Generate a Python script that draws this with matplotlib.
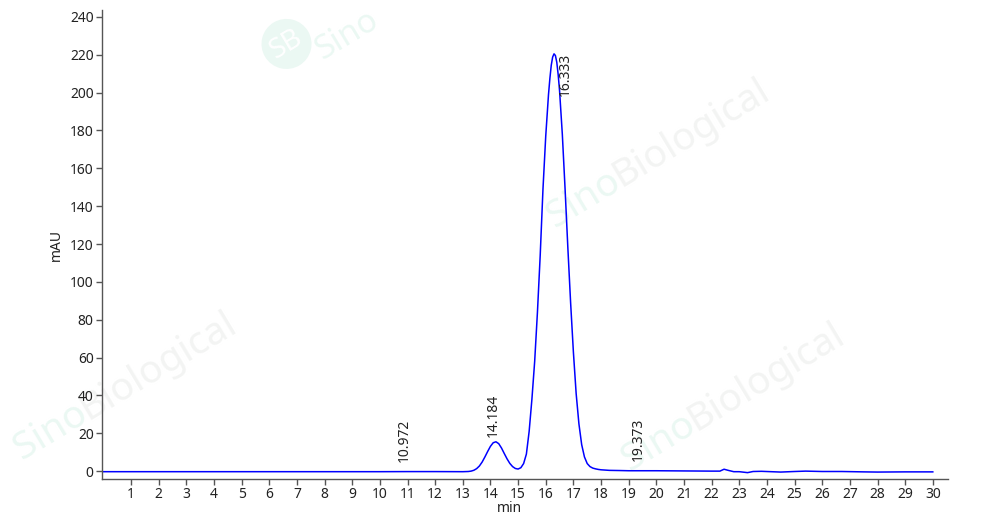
import numpy as np
import matplotlib
matplotlib.use('Agg')
from matplotlib import pyplot as plt

plt.rcParams['font.family'] = ['Noto Sans', 'DejaVu Sans']

# chromatogram trace (min, mAU)
timeMin = [0.0, 2.0, 4.0, 6.0, 8.0, 10.0, 11.0, 12.0, 13.0, 13.2, 13.3,
           13.4, 13.5, 13.6, 13.7, 13.8, 13.9, 14.0, 14.1, 14.2, 14.3,
           14.4, 14.5, 14.6, 14.7, 14.8, 14.9, 15.0, 15.1, 15.2, 15.3,
           15.4, 15.5, 15.6, 15.7, 15.8, 15.9, 16.0, 16.1, 16.15, 16.2,
           16.25, 16.3, 16.35, 16.4, 16.45, 16.5, 16.6, 16.7, 16.8, 16.9,
           17.0, 17.1, 17.2, 17.3, 17.4, 17.5, 17.6, 17.7, 17.8, 17.9,
           18.0, 18.3, 18.7, 19.0, 20.0, 21.0, 22.0, 22.3, 22.45, 22.6,
           22.8, 23.0, 23.3, 23.5, 23.8, 24.5, 25.0, 25.4, 26.0, 26.7,
           27.5, 28.0, 29.0, 30.0]
signal = [-0.3, -0.3, -0.3, -0.3, -0.3, -0.3, -0.25, -0.25, -0.3, -0.2, 0.0,
          0.45, 1.3, 2.7, 4.8, 7.5, 10.4, 13.1, 15.0, 15.5, 14.5,
          12.2, 9.3, 6.5, 4.1, 2.4, 1.4, 1.1, 1.8, 4.0, 9.0,
          21.0, 38.0, 58.0, 84.0, 114.0, 149.0, 177.0, 199.0, 207.5, 214.5,
          218.8, 220.5, 219.6, 216.0, 209.5, 201.0, 178.0, 149.0, 118.0, 89.0,
          63.0, 41.0, 25.0, 14.0, 7.5, 4.0, 2.4, 1.6, 1.2, 0.9,
          0.7, 0.4, 0.3, 0.2, 0.2, 0.1, 0.0, 0.0, 1.0, 0.4,
          -0.3, -0.3, -0.8, -0.2, -0.1, -0.5, -0.2, 0.0, -0.2, -0.2,
          -0.4, -0.5, -0.4, -0.4]

# peak labels
peakNames = ["10.972", "14.184", "16.333", "19.373"]
peakX = [10.9, 14.12, 16.69, 19.33]
peakY = [4.8, 18.0, 221.0, 5.3]
peakVa = ["bottom", "bottom", "top", "bottom"]

xTicks = list(range(1, 31))
yTicks = list(range(0, 241, 20))

fig = plt.figure(figsize=(10, 5.23), dpi=100)
ax = fig.add_axes([0.102, 0.084, 0.846, 0.897])
ax.patch.set_alpha(0)

# faint watermarks
wmColor = '#ebf8f3'
wmGrey = '#f3f4f3'
for (wx, wy) in [(0.022, 0.12), (0.555, 0.565), (0.63, 0.1)]:
    fig.text(wx, wy, "Sino", fontsize=28, fontweight='bold', color=wmColor,
             rotation=31, rotation_mode='anchor', zorder=-5)
    fig.text(wx + 0.066, wy + 0.076, "Biological", fontsize=28, color=wmGrey,
             rotation=31, rotation_mode='anchor', zorder=-5)
fig.text(0.265, 0.89, "SB", fontsize=20, fontweight='bold', color='white',
         rotation=31, zorder=-4,
         bbox=dict(boxstyle='circle,pad=0.3', fc=wmColor, ec='none'))
fig.text(0.322, 0.885, "Sino", fontsize=24, fontweight='bold', color=wmColor,
         rotation=31, rotation_mode='anchor', zorder=-5)

ax.plot(timeMin, signal, color='#0000ff', linewidth=1.1)

for name, px, py, va in zip(peakNames, peakX, peakY, peakVa):
    ax.text(px, py, name, rotation=90, ha='center', va=va, fontsize=10,
            color='#222222')

ax.set_xlim(-0.05, 30.55)
ax.set_ylim(-4.2, 243.7)
ax.set_xticks(xTicks)
ax.set_yticks(yTicks)
ax.set_xlabel("min", fontsize=10, labelpad=0, color='#222222')
ax.xaxis.set_label_coords(0.482, -0.046)
ax.set_ylabel("mAU", fontsize=10, labelpad=4, color='#222222')

for side in ['top', 'right']:
    ax.spines[side].set_visible(False)
for side in ['left', 'bottom']:
    ax.spines[side].set_color('#555555')
    ax.spines[side].set_linewidth(1.0)
ax.tick_params(axis='both', direction='out', length=4, width=1.0,
               color='#555555', labelsize=10, labelcolor='#222222', pad=2)

fig.savefig("out.png", dpi=100)
